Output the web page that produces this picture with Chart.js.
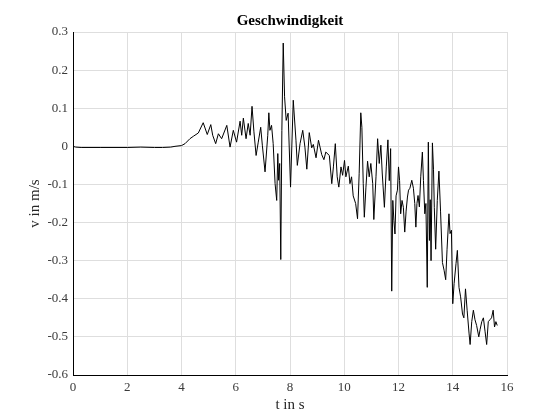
<!DOCTYPE html>
<html>
<head>
<meta charset="utf-8">
<script src="https://cdn.jsdelivr.net/npm/chart.js@4/dist/chart.umd.min.js"></script>
<style>
    html, body { margin: 0; padding: 0; background: #fff; }
    #wrap { width: 560px; height: 420px; }
</style>
</head>
<body>
<div id="wrap"><canvas id="speedChart" width="560" height="420"></canvas></div>
<script>
// ===== Data =====
const timeS = [
    0, 0.1, 0.3, 1.0, 2.0, 2.5, 3.0, 3.3, 3.6, 3.76,
    4.0, 4.13, 4.31, 4.45, 4.62, 4.80, 4.95, 5.08, 5.15, 5.26,
    5.36, 5.48, 5.67, 5.79, 5.91, 6.03, 6.16, 6.22, 6.28, 6.38,
    6.46, 6.53, 6.60, 6.67, 6.75, 6.83, 6.92, 6.98, 7.08, 7.18,
    7.22, 7.26, 7.32, 7.38, 7.45, 7.51, 7.55, 7.58, 7.62, 7.66,
    7.70, 7.75, 7.80, 7.86, 7.93, 8.02, 8.12, 8.22, 8.27, 8.37,
    8.47, 8.55, 8.62, 8.71, 8.80, 8.86, 8.96, 9.05, 9.17, 9.25,
    9.32, 9.45, 9.54, 9.60, 9.67, 9.74, 9.80, 9.88, 9.94, 10.01,
    10.06, 10.15, 10.21, 10.27, 10.33, 10.42, 10.49, 10.55, 10.61, 10.65,
    10.70, 10.74, 10.80, 10.86, 10.92, 10.98, 11.05, 11.09, 11.17, 11.23,
    11.29, 11.35, 11.40, 11.48, 11.55, 11.61, 11.66, 11.71, 11.75, 11.79,
    11.83, 11.87, 11.91, 11.96, 12.00, 12.04, 12.08, 12.13, 12.18, 12.23,
    12.28, 12.33, 12.37, 12.42, 12.49, 12.55, 12.60, 12.64, 12.68, 12.72,
    12.77, 12.82, 12.88, 12.92, 12.97, 13.01, 13.06, 13.10, 13.14, 13.17,
    13.20, 13.25, 13.29, 13.32, 13.37, 13.43, 13.49, 13.55, 13.62, 13.68,
    13.74, 13.79, 13.86, 13.90, 13.95, 14.00, 14.05, 14.12, 14.17, 14.23,
    14.29, 14.36, 14.41, 14.47, 14.53, 14.60, 14.64, 14.70, 14.76, 14.82,
    14.88, 14.96, 15.01, 15.07, 15.13, 15.19, 15.25, 15.31, 15.37, 15.43,
    15.49, 15.54, 15.59, 15.64
];
const speed = [
    0, -0.002, -0.003, -0.003, -0.003, -0.002, -0.003, -0.003, -0.002, 0.0,
    0.002, 0.007, 0.02, 0.027, 0.035, 0.062, 0.031, 0.057, 0.029, 0.007,
    0.033, 0.02, 0.055, -0.002, 0.042, 0.011, 0.066, 0.029, 0.074, 0.02,
    0.06, 0.029, 0.105, 0.038, -0.024, 0.011, 0.05, 0.003, -0.067, 0.029,
    0.088, 0.042, 0.055, 0.007, -0.098, -0.142, -0.019, -0.089, -0.045, -0.297,
    0.042, 0.271, 0.13, 0.068, 0.087, -0.107, 0.121, 0.016, -0.05, 0.007,
    0.042, -0.002, -0.06, 0.036, -0.004, 0.005, -0.03, 0.016, -0.022, -0.035,
    -0.015, -0.024, -0.098, -0.054, 0.007, -0.08, -0.107, -0.054, -0.076, -0.037,
    -0.08, -0.052, -0.098, -0.08, -0.13, -0.15, -0.19, -0.072, 0.088, 0.05,
    -0.098, -0.186, -0.107, -0.039, -0.08, -0.045, -0.098, -0.192, -0.08, 0.02,
    -0.045, 0.003, -0.07, -0.16, -0.054, 0.017, -0.09, -0.006, -0.38, -0.142,
    -0.194, -0.23, -0.13, -0.115, -0.054, -0.09, -0.177, -0.142, -0.16, -0.225,
    -0.17, -0.133, -0.115, -0.11, -0.089, -0.11, -0.15, -0.212, -0.15, -0.129,
    -0.159, -0.08, -0.015, -0.09, -0.177, -0.15, -0.37, 0.011, -0.247, -0.14,
    -0.30, 0.009, -0.06, -0.16, -0.27, -0.142, -0.065, -0.17, -0.305, -0.325,
    -0.35, -0.27, -0.177, -0.229, -0.22, -0.413, -0.36, -0.308, -0.273, -0.37,
    -0.395, -0.44, -0.45, -0.374, -0.43, -0.49, -0.52, -0.46, -0.43, -0.455,
    -0.47, -0.50, -0.48, -0.46, -0.45, -0.485, -0.52, -0.46, -0.455, -0.45,
    -0.43, -0.474, -0.46, -0.47
];
const xTicks = [0, 2, 4, 6, 8, 10, 12, 14, 16];
const yTicks = [0.3, 0.2, 0.1, 0, -0.1, -0.2, -0.3, -0.4, -0.5, -0.6];

// ===== Styling =====
const fontFamily = '"Liberation Serif", "Times New Roman", serif';
const textColor = '#262626';
const tickColor = '#3a3a3a';
const gridColor = '#dedede';

document.addEventListener('DOMContentLoaded', () => {
    initSpeedChart();
});

function initSpeedChart() {
    const ctx = document.getElementById('speedChart');
    const points = timeS.map((t, i) => ({ x: t, y: speed[i] }));

    new Chart(ctx, {
        type: 'line',
        data: {
            datasets: [{
                data: points,
                borderColor: '#000000',
                borderWidth: 1,
                pointRadius: 0,
                tension: 0,
                fill: false
            }]
        },
        options: {
            responsive: false,
            animation: false,
            layout: { padding: { left: 0, right: 53, top: 0, bottom: 0 } },
            plugins: {
                legend: { display: false },
                tooltip: { enabled: false },
                title: {
                    display: true,
                    fullSize: false,
                    text: 'Geschwindigkeit',
                    color: '#000',
                    font: { family: fontFamily, size: 15, weight: 'bold' },
                    padding: { top: 12, bottom: 2 }
                }
            },
            scales: {
                x: {
                    type: 'linear',
                    min: 0,
                    max: 16,
                    afterBuildTicks: (scale) => { scale.ticks = xTicks.map(v => ({ value: v })); },
                    afterFit: (scale) => { scale.height = 45; },
                    grid: { color: gridColor, drawTicks: false },
                    border: { color: '#000', width: 1 },
                    ticks: {
                        padding: 5,
                        color: tickColor,
                        font: { family: fontFamily, size: 13 }
                    },
                    title: {
                        display: true,
                        text: 't in s',
                        color: textColor,
                        padding: { top: 2, bottom: 6 },
                        font: { family: fontFamily, size: 15 }
                    }
                },
                y: {
                    min: -0.6,
                    max: 0.3,
                    afterBuildTicks: (scale) => { scale.ticks = yTicks.map(v => ({ value: v })); },
                    afterFit: (scale) => { scale.width = 73; },
                    grid: { color: gridColor, drawTicks: false },
                    border: { color: '#000', width: 1 },
                    ticks: {
                        padding: 5,
                        color: tickColor,
                        font: { family: fontFamily, size: 13 },
                        callback: (value) => String(Math.round(value * 10) / 10)
                    },
                    title: {
                        display: true,
                        text: 'v in m/s',
                        color: textColor,
                        padding: { top: 26, bottom: 4 },
                        font: { family: fontFamily, size: 15 }
                    }
                }
            }
        }
    });
}
</script>
</body>
</html>
